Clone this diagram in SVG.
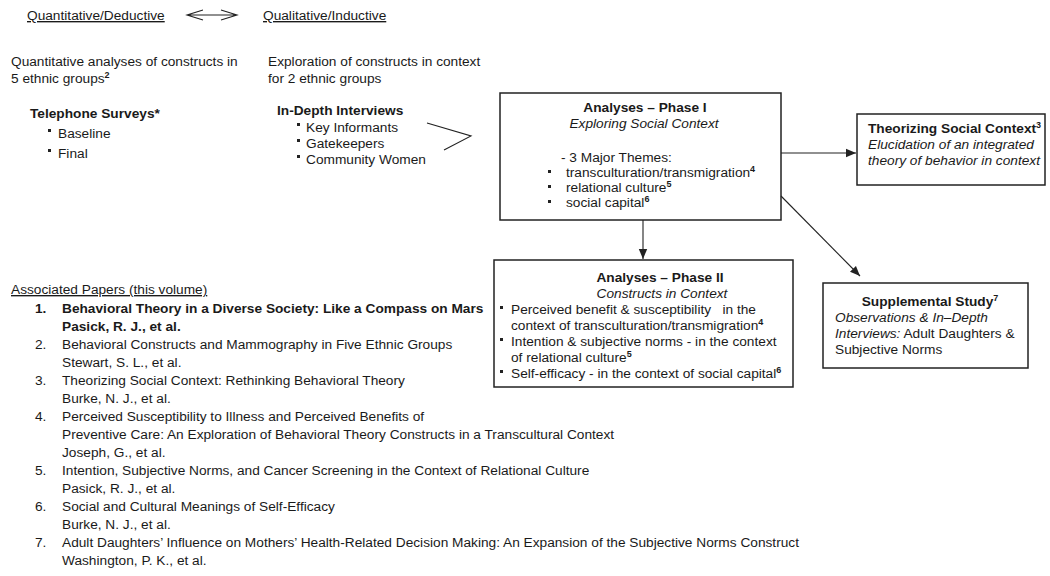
<svg xmlns="http://www.w3.org/2000/svg" width="1050" height="576" viewBox="0 0 1050 576">
<style>
text{font-family:"Liberation Sans",Arial,sans-serif;font-size:13.7px;fill:#1a1a1a}
.b{font-weight:bold}
.i{font-style:italic}
.u{text-decoration:underline}
.sup{font-size:9px;font-weight:bold}
.box{fill:#fff;stroke:#222;stroke-width:1.5}
.ln{fill:none;stroke:#222;stroke-width:1.1}
.pre{white-space:pre}
</style>
<defs>
<marker id="ah" markerUnits="userSpaceOnUse" markerWidth="10" markerHeight="10" viewBox="0 0 10 10" refX="10" refY="5" orient="auto">
<path d="M0,0.8 L10,5 L0,9.2 Z" fill="#222"/>
</marker>
</defs>

<g id="header">
<text x="27" y="20" class="u">Quantitative/Deductive</text>
<text x="263" y="20" class="u">Qualitative/Inductive</text>
</g>

<g id="quant">
<text x="11" y="66">Quantitative analyses of constructs in</text>
<text x="11" y="83">5 ethnic groups<tspan class="sup" dy="-5">2</tspan></text>
<text x="30" y="118" class="b">Telephone Surveys*</text>
<rect x="48" y="129" width="3" height="3" fill="#222"/>
<text x="58" y="138">Baseline</text>
<rect x="48" y="149" width="3" height="3" fill="#222"/>
<text x="58" y="158">Final</text>
</g>

<g id="qual">
<text x="268" y="66">Exploration of constructs in context</text>
<text x="268" y="83">for 2 ethnic groups</text>
<text x="277" y="115" class="b">In-Depth Interviews</text>
<rect x="297" y="123" width="3" height="3" fill="#222"/>
<text x="306" y="132">Key Informants</text>
<rect x="297" y="139" width="3" height="3" fill="#222"/>
<text x="306" y="148">Gatekeepers</text>
<rect x="297" y="155" width="3" height="3" fill="#222"/>
<text x="306" y="164">Community Women</text>
</g>

<g id="phase1">
<rect x="500" y="93" width="281" height="127" class="box"/>
<text x="645" y="112" class="b" text-anchor="middle">Analyses – Phase I</text>
<text x="644" y="128" class="i" text-anchor="middle">Exploring Social Context</text>
<text x="561" y="162">- 3 Major Themes:</text>
<rect x="548" y="170" width="3" height="3" fill="#222"/>
<text x="566" y="177">transculturation/transmigration<tspan class="sup" dy="-5">4</tspan></text>
<rect x="548" y="185" width="3" height="3" fill="#222"/>
<text x="566" y="192">relational culture<tspan class="sup" dy="-5">5</tspan></text>
<rect x="548" y="200" width="3" height="3" fill="#222"/>
<text x="566" y="207">social capital<tspan class="sup" dy="-5">6</tspan></text>
</g>

<g id="theorizing">
<rect x="857" y="114" width="188" height="71" class="box"/>
<text x="868" y="133" class="b">Theorizing Social Context<tspan class="sup" dy="-5">3</tspan></text>
<text x="868" y="149" class="i">Elucidation of an integrated</text>
<text x="868" y="165" class="i">theory of behavior in context</text>
</g>

<g id="phase2">
<rect x="494" y="260" width="299" height="127" class="box"/>
<text x="660" y="282" class="b" text-anchor="middle">Analyses – Phase II</text>
<text x="662" y="298" class="i" text-anchor="middle">Constructs in Context</text>
<rect x="500" y="306" width="3" height="3" fill="#222"/>
<text x="511" y="314" class="pre">Perceived benefit &amp; susceptibility   in the</text>
<text x="511" y="330">context of transculturation/transmigration<tspan class="sup" dy="-5">4</tspan></text>
<rect x="500" y="338" width="3" height="3" fill="#222"/>
<text x="511" y="346">Intention &amp; subjective norms - in the context</text>
<text x="511" y="362">of relational culture<tspan class="sup" dy="-5">5</tspan></text>
<rect x="500" y="370" width="3" height="3" fill="#222"/>
<text x="511" y="378">Self-efficacy - in the context of social capital<tspan class="sup" dy="-5">6</tspan></text>
</g>

<g id="supplemental">
<rect x="823" y="283" width="205" height="85" class="box"/>
<text x="930" y="306" class="b" text-anchor="middle">Supplemental Study<tspan class="sup" dy="-5">7</tspan></text>
<text x="835" y="322" class="i">Observations &amp; In–Depth</text>
<text x="835" y="338"><tspan class="i">Interviews:</tspan> Adult Daughters &amp;</text>
<text x="835" y="354">Subjective Norms</text>
</g>

<g id="connectors">
<path d="M187,15 H237 M203,10 L187,15 L203,20 M221,10 L237,15 L221,20" class="ln"/>
<polyline points="427,123 471,136 444,150" class="ln"/>
<line x1="781" y1="153" x2="856" y2="153" class="ln" marker-end="url(#ah)"/>
<line x1="643" y1="220" x2="643" y2="259" class="ln" marker-end="url(#ah)"/>
<line x1="781" y1="196" x2="860" y2="276" class="ln" marker-end="url(#ah)"/>
</g>

<g id="papers">
<text x="11" y="294" class="u">Associated Papers (this volume)</text>
<text x="35" y="313" class="b">1.</text>
<text x="62" y="313" class="b">Behavioral Theory in a Diverse Society: Like a Compass on Mars</text>
<text x="62" y="331" class="b">Pasick, R. J., et al.</text>
<text x="35" y="349">2.</text>
<text x="62" y="349">Behavioral Constructs and Mammography in Five Ethnic Groups</text>
<text x="62" y="367">Stewart, S. L., et al.</text>
<text x="35" y="385">3.</text>
<text x="62" y="385">Theorizing Social Context: Rethinking Behavioral Theory</text>
<text x="62" y="403">Burke, N. J., et al.</text>
<text x="35" y="421">4.</text>
<text x="62" y="421">Perceived Susceptibility to Illness and Perceived Benefits of</text>
<text x="62" y="439">Preventive Care: An Exploration of Behavioral Theory Constructs in a Transcultural Context</text>
<text x="62" y="457">Joseph, G., et al.</text>
<text x="35" y="475">5.</text>
<text x="62" y="475">Intention, Subjective Norms, and Cancer Screening in the Context of Relational Culture</text>
<text x="62" y="493">Pasick, R. J., et al.</text>
<text x="35" y="511">6.</text>
<text x="62" y="511">Social and Cultural Meanings of Self-Efficacy</text>
<text x="62" y="529">Burke, N. J., et al.</text>
<text x="35" y="547">7.</text>
<text x="62" y="547">Adult Daughters’ Influence on Mothers’ Health-Related Decision Making: An Expansion of the Subjective Norms Construct</text>
<text x="62" y="565">Washington, P. K., et al.</text>
</g>
</svg>
